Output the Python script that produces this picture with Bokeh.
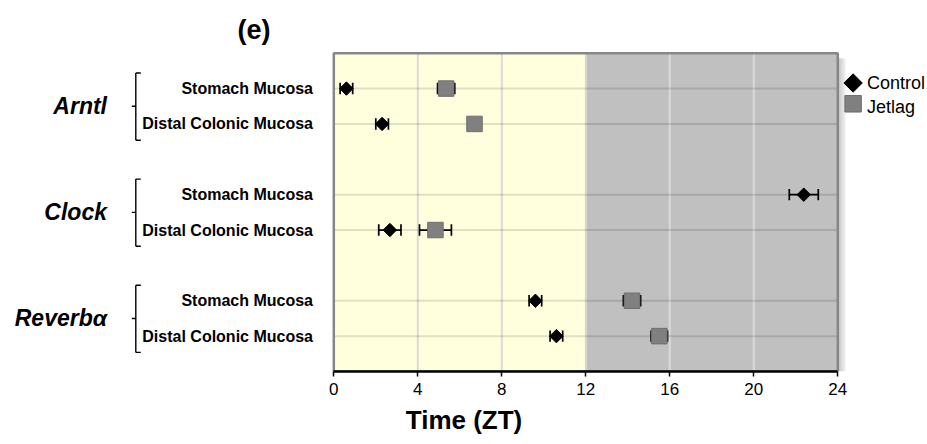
import numpy as np
from bokeh.plotting import figure
from bokeh.models import ColumnDataSource, Range1d, FixedTicker, Title
from bokeh.core.properties import value
from bokeh.embed import file_html
from bokeh.resources import INLINE

# ---------------- data ----------------
genes = ["Arntl", "Clock", "Reverbα"]
tissues = ["Stomach Mucosa", "Distal Colonic Mucosa"]
row_labels = tissues * 3
row_pos = [8, 7, 5, 4, 2, 1]          # category slots (top to bottom)
gene_rows = [[8, 7], [5, 4], [2, 1]]

control_mean = [0.6, 2.3, 22.38, 2.67, 9.6, 10.6]
control_err = [0.3, 0.3, 0.69, 0.53, 0.3, 0.3]
jetlag_mean = [5.35, 6.7, np.nan, 4.84, 14.2, 15.5]
jetlag_err = [0.41, 0.25, np.nan, 0.76, 0.41, 0.39]

series = ["Control", "Jetlag"]
x_ticks = [0, 4, 8, 12, 16, 20, 24]
light_phase = (0, 12)
dark_phase = (12, 24)
y_span = (0, 9)

# ---------------- layout constants ----------------
FNAME = "Liberation Sans"
FONT = value(FNAME)
W, H = 927, 444
X0_PX, PX_PER_H = 333.3, 21.0          # page x of ZT 0, px per hour
TOP_PX, BOT_PX = 52.7, 371.0           # page y of plot top / x axis
PXX = 1 / PX_PER_H
PXY = (y_span[1] - y_span[0]) / (BOT_PX - TOP_PX)

def dx(px):  # page x -> data x
    return (px - X0_PX) * PXX

def dy(py):  # page y -> data y
    return y_span[1] - (py - TOP_PX) * PXY

x_start, x_end = dx(0), dx(W)
y_top = dy(0)

p = figure(width=W, height=H, x_range=Range1d(x_start, x_end), y_range=Range1d(y_span[0], y_top),
           output_backend="svg", toolbar_location=None, y_axis_location=None,
           min_border_left=0, min_border_right=0, min_border_top=0, min_border_bottom=int(H - BOT_PX),
           outline_line_color=None, background_fill_color="white", border_fill_color="white")
p.xgrid.visible = False
p.ygrid.visible = False

# soft shadow right of plot area
for i in range(1, 8):
    p.quad(left=[light_phase[0] + 4 * PXX], right=[dark_phase[1] + i * 1.2 * PXX],
           bottom=[y_span[0]], top=[y_span[1] - 5 * PXY],
           fill_color="black", fill_alpha=0.035, line_color=None, level="image")

# light / dark phase backgrounds
p.quad(left=[light_phase[0]], right=[light_phase[1]], bottom=[y_span[0]], top=[y_span[1]],
       fill_color="#FFFFDD", line_color=None, level="image")
p.quad(left=[dark_phase[0]], right=[dark_phase[1]], bottom=[y_span[0]], top=[y_span[1]],
       fill_color="#C0C0C0", line_color=None, level="image")

# grid lines
vg = x_ticks[1:-1]
p.segment(x0=vg, x1=vg, y0=[y_span[0]] * len(vg), y1=[y_span[1]] * len(vg),
          line_color="#DADADA", line_width=2, level="underlay")
p.segment(x0=[x_ticks[0]] * len(row_pos), x1=[x_ticks[-1]] * len(row_pos), y0=row_pos, y1=row_pos,
          line_color="black", line_alpha=0.12, line_width=2, level="underlay")

# plot border
p.quad(left=[x_ticks[0]], right=[x_ticks[-1]], bottom=[y_span[0]], top=[y_span[1]],
       fill_color=None, line_color="#878787", line_width=2.5)

# x axis
ax = p.xaxis[0]
ax.ticker = FixedTicker(ticks=x_ticks)
ax.bounds = (x_ticks[0], x_ticks[-1])
ax.axis_line_color = "black"
ax.axis_line_width = 2.5
ax.major_tick_line_color = "black"
ax.major_tick_line_width = 1.5
ax.major_tick_out = 5
ax.major_tick_in = 0
ax.minor_tick_line_color = None
ax.major_label_text_font = FNAME
ax.major_label_text_font_size = "17px"
ax.major_label_text_color = "black"
ax.major_label_standoff = 6

p.add_layout(Title(text="Time (ZT)", align="center", offset=(X0_PX + 12 * PX_PER_H) - W / 2,
                   text_font=FNAME, text_font_style="bold", text_font_size="26px",
                   text_color="black", standoff=11), "below")

# error bars (drawn first so markers sit on top)
CAP = 5.7 * PXY
def errbars(mean, err, rows):
    m = np.array(mean, float); e = np.array(err, float); y = np.array(rows, float)
    ok = ~np.isnan(m)
    m, e, y = m[ok], e[ok], y[ok]
    p.segment(x0=m - e, x1=m + e, y0=y, y1=y, line_color="black", line_width=1.7)
    p.segment(x0=np.r_[m - e, m + e], x1=np.r_[m - e, m + e],
              y0=np.r_[y - CAP, y - CAP], y1=np.r_[y + CAP, y + CAP],
              line_color="black", line_width=1.7)

errbars(jetlag_mean, jetlag_err, row_pos)
errbars(control_mean, control_err, row_pos)

jm = np.array(jetlag_mean, float)
ok = ~np.isnan(jm)
src_j = ColumnDataSource(dict(x=jm[ok], y=np.array(row_pos, float)[ok]))
src_c = ColumnDataSource(dict(x=control_mean, y=row_pos))

JET_FILL, JET_LINE = "#808080", "#6E6E6E"
p.rect(x="x", y="y", width=15.5, height=15.5, width_units="screen", height_units="screen",
       source=src_j, fill_color=JET_FILL, line_color=JET_LINE, line_width=1)
p.scatter(x="x", y="y", source=src_c, marker="square", angle=np.pi / 4, size=9.5,
          fill_color="black", line_color="black")

# legend (drawn beside the plot area)
leg_x = dx(852.6)
leg_y = [dy(82.5), dy(103.3)]
p.scatter(x=[leg_x], y=[leg_y[0]], marker="square", angle=np.pi / 4, size=13,
          fill_color="black", line_color="black")
p.rect(x=[leg_x], y=[leg_y[1]], width=16.5, height=16.5, width_units="screen", height_units="screen",
       fill_color=JET_FILL, line_color=JET_LINE, line_width=1)
p.text(x=[dx(866.5)] * 2, y=[leg_y[0], dy(106)], text=series, text_align="left",
       text_baseline="middle", text_font=FONT, text_font_size="18px", text_color="black")

# category labels
p.text(x=[dx(312.5)] * len(row_pos), y=row_pos, text=row_labels, text_align="right",
       text_baseline="middle", text_font=FONT, text_font_style="bold", text_font_size="16px",
       text_color="black")

gene_mid = [sum(g) / len(g) for g in gene_rows]
p.text(x=[dx(106.5)] * len(genes), y=gene_mid, text=genes, text_align="right", text_baseline="middle",
       text_font=FONT, text_font_style="bold italic", text_font_size="23px", text_color="black")

# brackets
bx = dx(135.3)
g_top = [max(g) + 0.44 for g in gene_rows]
g_bot = [min(g) - 0.46 for g in gene_rows]
p.segment(x0=[bx] * 3, x1=[bx] * 3, y0=g_bot, y1=g_top, line_color="black", line_width=1.4)
p.segment(x0=[bx] * 6, x1=[bx + 5 * PXX] * 6, y0=g_top + g_bot, y1=g_top + g_bot,
          line_color="black", line_width=1.4)
p.segment(x0=[bx - 4 * PXX] * 3, x1=[bx] * 3, y0=gene_mid, y1=gene_mid,
          line_color="black", line_width=1.4)

# panel title
p.text(x=[dx(253.5)], y=[dy(29.5)], text=["(e)"], text_align="center", text_baseline="middle",
       text_font=FONT, text_font_style="bold", text_font_size="27px", text_color="black")

open("out.html", "w").write(file_html(p, INLINE))
